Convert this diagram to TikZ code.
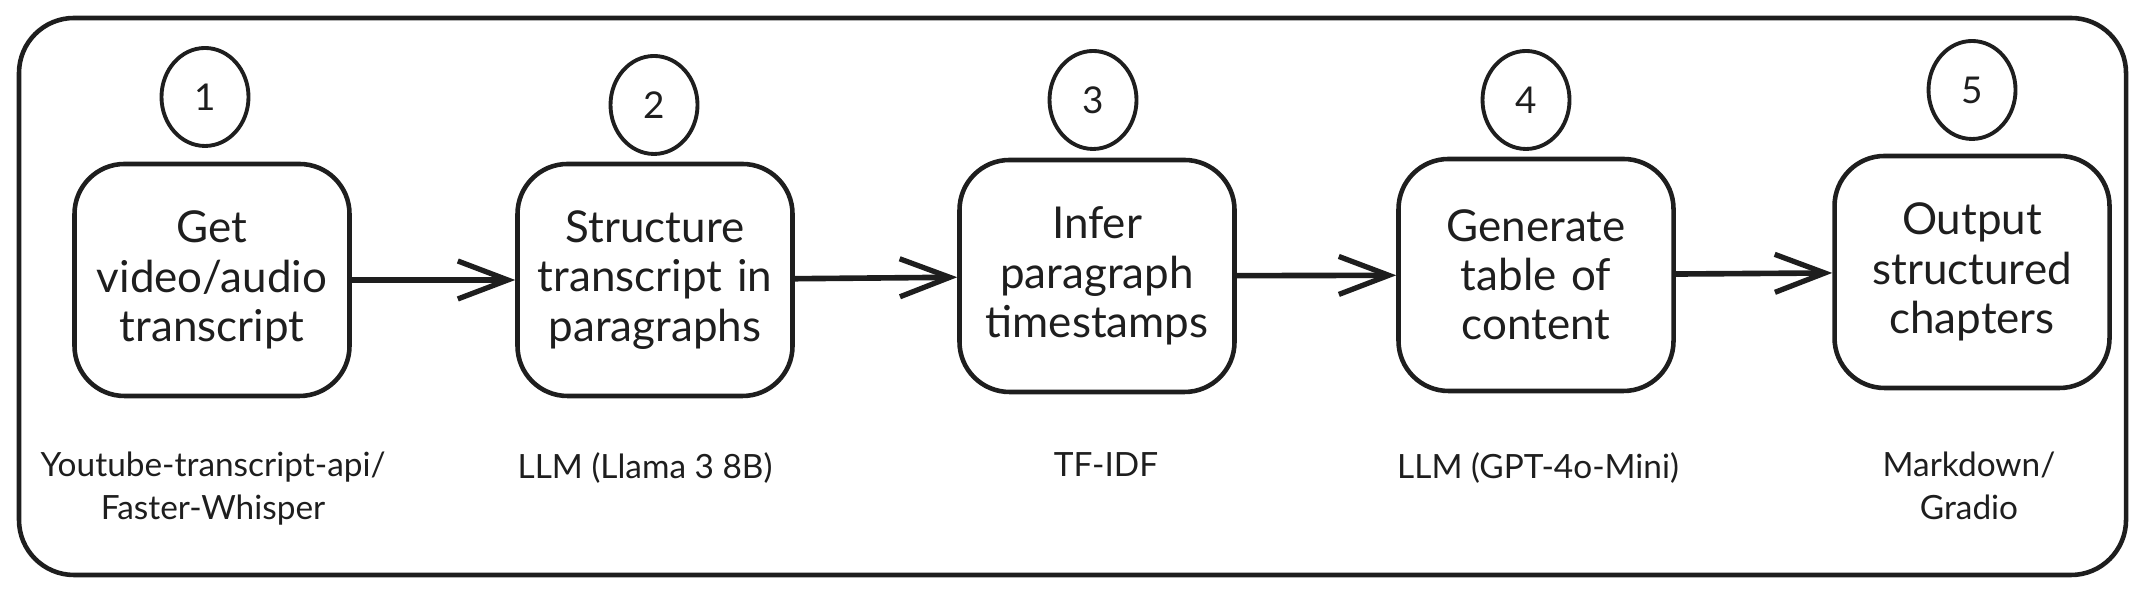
\documentclass[tikz,border=0pt]{standalone}
\usepackage{fontspec}
\setmainfont{Lato}
\usepackage{xcolor}
\usetikzlibrary{arrows.meta, shapes.geometric, positioning}
\definecolor{ink}{HTML}{1E1E1E}

\begin{document}
\begin{tikzpicture}[
                        stage/.style={draw=ink, text=ink, line width=1.3pt, rounded corners=0.5cm, minimum width=2.75cm, minimum height=2.32cm, text width=2.5cm, align=center, font=\fontsize{12.5}{14}\selectfont},
                        num/.style={draw=ink, text=ink, ellipse, line width=1.1pt, minimum width=0.87cm, minimum height=0.98cm, inner sep=0pt, font=\fontsize{10.5}{12}\selectfont},
                        tool/.style={text=ink, anchor=north, align=center, font=\fontsize{9.5}{12.2}\selectfont},
                        flow/.style={draw=ink, line width=1.6pt, -{Straight Barb[length=0.5cm, width=0.38cm, line width=1.5pt]}}
                    ]
                        \useasboundingbox (0, 0) rectangle (21.46, 5.93);
                        \draw[ink, line width=1.3pt, rounded corners=0.55cm] (0.19, 0.18) rectangle (21.26, 5.75);

                        \node[stage] (s1) at (2.12, 3.13) {Get\\video/audio\\transcript};
                        \node[stage] (s2) at (6.55, 3.13) {Structure\\transcript in\\paragraphs};
                        \node[stage] (s3) at (10.97, 3.17) {Infer\\paragraph\\timestamps};
                        \node[stage] (s4) at (15.36, 3.18) {Generate\\table of\\content};
                        \node[stage] (s5) at (19.72, 3.21) {Output\\structured\\chapters};

                        \node[num] (n1) at (2.05, 4.96) {1};
                        \node[num] (n2) at (6.54, 4.88) {2};
                        \node[num] (n3) at (10.93, 4.93) {3};
                        \node[num] (n4) at (15.26, 4.93) {4};
                        \node[num] (n5) at (19.72, 5.03) {5};

                        \node[tool] (t1) at (2.13, 1.53) {Youtube-transcript-api/\\Faster-Whisper};
                        \node[tool] (t2) at (6.45, 1.53) {LLM (Llama 3 8B)};
                        \node[tool] (t3) at (11.06, 1.53) {TF-IDF};
                        \node[tool] (t4) at (15.38, 1.53) {LLM (GPT-4o-Mini)};
                        \node[tool] (t5) at (19.69, 1.53) {Markdown/\\Gradio};

                        \draw[flow] (s1) -- (s2);
                        \draw[flow] (s2) -- (s3);
                        \draw[flow] (s3) -- (s4);
                        \draw[flow] (s4) -- (s5);
                    \end{tikzpicture}
\end{document}
